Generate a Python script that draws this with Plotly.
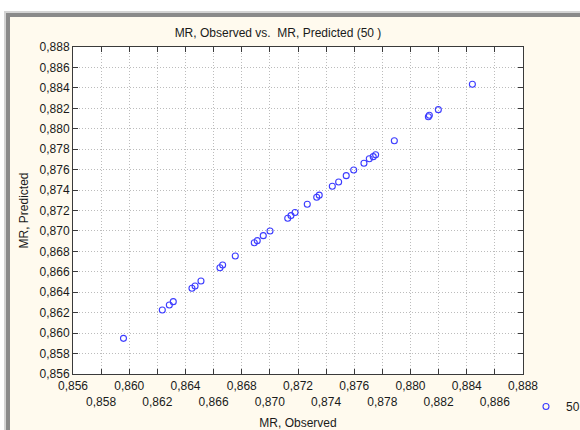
import plotly.graph_objects as go

# Data (MR observed vs predicted)
mr_observed = [0.85959, 0.86235, 0.86285, 0.86313, 0.86446, 0.86468, 0.86510,
               0.86645, 0.86664, 0.86754, 0.86889, 0.86910, 0.86953, 0.87001,
               0.87127, 0.87150, 0.87179, 0.87266, 0.87333, 0.87351, 0.87444,
               0.87489, 0.87543, 0.87596, 0.87669, 0.87707, 0.87735, 0.87752,
               0.87885, 0.88127, 0.88134, 0.88198, 0.88440]
mr_predicted = [0.85949, 0.86226, 0.86275, 0.86308, 0.86439, 0.86461, 0.86510,
                0.86640, 0.86667, 0.86755, 0.86885, 0.86905, 0.86954, 0.87000,
                0.87124, 0.87150, 0.87180, 0.87261, 0.87330, 0.87350, 0.87437,
                0.87479, 0.87541, 0.87596, 0.87662, 0.87707, 0.87727, 0.87746,
                0.87883, 0.88118, 0.88132, 0.88187, 0.88435]

tick_vals = [0.856, 0.858, 0.860, 0.862, 0.864, 0.866, 0.868, 0.870, 0.872,
             0.874, 0.876, 0.878, 0.880, 0.882, 0.884, 0.886, 0.888]
y_tick_text = ["0,856", "0,858", "0,860", "0,862", "0,864", "0,866", "0,868",
               "0,870", "0,872", "0,874", "0,876", "0,878", "0,880", "0,882",
               "0,884", "0,886", "0,888"]
x_tick_text = [t if i % 2 == 0 else "<br>" + t for i, t in enumerate(y_tick_text)]

title_text = "MR, Observed vs.  MR, Predicted (50 )"
x_title = "MR, Observed"
y_title = "MR, Predicted"
legend_name = "50"

W, H = 580, 430
L, R, T, B = 73, 57, 47, 56
PW, PH = W - L - R, H - T - B


def px(x):
    return (x - L) / PW


def py(y):
    return (H - B - y) / PH


fig = go.Figure()
fig.add_trace(go.Scatter(
    x=mr_observed, y=mr_predicted, mode="markers", name=legend_name,
    marker=dict(symbol="circle-open", size=6, color="#3c3cff",
                line=dict(width=1.1, color="#3c3cff")),
))

font = dict(family="Liberation Sans, Arial, sans-serif", size=12, color="#1a1a1a")
frame = "#3a3a3a"
grid = "#bcbcbc"

axis_common = dict(
    range=[0.856, 0.888], tickvals=tick_vals, showline=True, linecolor=frame,
    linewidth=1, mirror="ticks", ticks="inside", ticklen=5, tickcolor=frame,
    showgrid=True, gridcolor=grid, griddash="1px,2px", gridwidth=1, zeroline=False,
    tickfont=font, tickangle=0,
)

fig.update_layout(
    width=W, height=H,
    margin=dict(l=L, r=R, t=T, b=B, autoexpand=False),
    paper_bgcolor="#fffaee", plot_bgcolor="#ffffff",
    font=font,
    title=dict(text=title_text, x=px(278), xref="paper", xanchor="center",
               y=1 - 33 / H, yref="container", yanchor="middle",
               font=dict(family=font["family"], size=12, color="#1a1a1a")),
    xaxis=dict(axis_common, ticktext=x_tick_text, ticklabelstandoff=1,
               title=dict(text=x_title, standoff=11, font=font)),
    yaxis=dict(axis_common, ticktext=y_tick_text,
               title=dict(text=y_title, standoff=8, font=font)),
    showlegend=True,
    legend=dict(x=px(526), y=py(392), xanchor="left", yanchor="top",
                bgcolor="rgba(0,0,0,0)", font=font, itemwidth=30),
    shapes=[
        dict(type="rect", xref="paper", yref="paper", x0=px(0), x1=px(W),
             y0=py(11), y1=py(0), fillcolor="#ffffff", line_width=0, layer="below"),
        dict(type="rect", xref="paper", yref="paper", x0=px(0), x1=px(4),
             y0=py(H), y1=py(0), fillcolor="#ffffff", line_width=0, layer="below"),
        dict(type="rect", xref="paper", yref="paper", x0=px(4), x1=px(W),
             y0=py(13), y1=py(11), fillcolor="#d4d4d4", line_width=0, layer="below"),
        dict(type="rect", xref="paper", yref="paper", x0=px(4), x1=px(6),
             y0=py(H), y1=py(11), fillcolor="#d4d4d4", line_width=0, layer="below"),
        dict(type="rect", xref="paper", yref="paper", x0=px(6), x1=px(W),
             y0=py(17), y1=py(13), fillcolor="#8a8a8a", line_width=0, layer="below"),
        dict(type="rect", xref="paper", yref="paper", x0=px(6), x1=px(10),
             y0=py(H), y1=py(13), fillcolor="#8a8a8a", line_width=0, layer="below"),
    ],
)

fig.write_html("out.html", config={"displayModeBar": False},
               post_script="document.body.style.margin='0';")
